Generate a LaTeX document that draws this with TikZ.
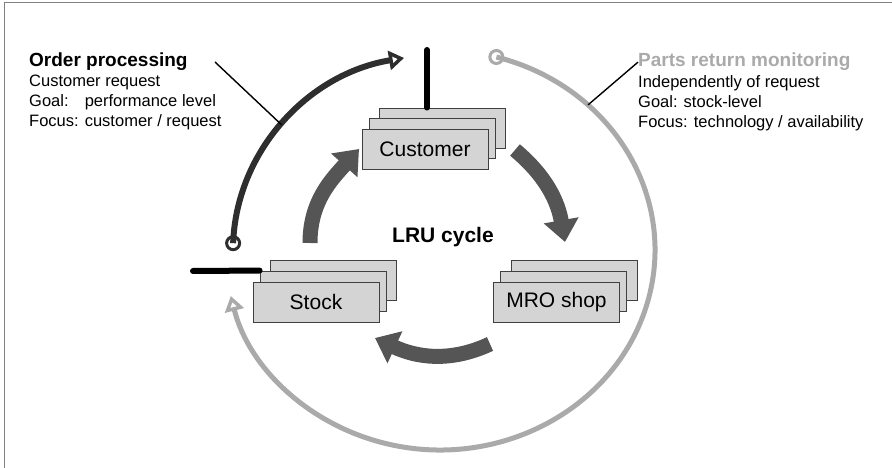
\documentclass[tikz,border=0pt]{standalone}
\usepackage{fontspec}
\setmainfont{Liberation Sans}
\usepackage{tikz}
\usetikzlibrary{positioning, arrows.meta, calc}

\definecolor{cardfill}{HTML}{D4D4D4}
\definecolor{cycleGrey}{HTML}{555555}
\definecolor{orderGrey}{HTML}{2E2E2E}
\definecolor{returnGrey}{HTML}{AAAAAA}
\definecolor{frameGrey}{HTML}{808080}

\begin{document}
\begin{tikzpicture}[
  x=1pt, y=1pt,
  card/.style={
    draw=black!75,
    fill=cardfill,
    line width=0.9pt,
    minimum width=126pt,
    minimum height=40pt,
    inner sep=0pt,
    font=\fontsize{21}{25}\selectfont
  },
  cyclearrow/.style={line width=15pt, draw=cycleGrey, -{Triangle[width=34pt, length=22pt]}},
  orderarc/.style={line width=6pt, draw=orderGrey, -{Triangle[open, line width=3.5pt, width=19pt, length=15pt]}},
  returnarc/.style={line width=5pt, draw=returnGrey, -{Triangle[open, line width=3.5pt, width=19pt, length=15pt]}},
  ring/.style={circle, draw, line width=3pt, minimum size=13pt, inner sep=0pt},
  bar/.style={line width=6pt, line cap=round},
  leader/.style={line width=1.4pt},
  infotitle/.style={font=\fontsize{19}{23}\selectfont\bfseries, inner sep=0pt},
  infobody/.style={font=\fontsize{16.5}{20}\selectfont, align=left, inner sep=0pt}
]
\useasboundingbox (0,0) rectangle (892,468);
\draw[frameGrey, line width=1pt] (4,0) -- (4,465) -- (892,465);

% the three stacked cards
\foreach \name/\px/\py/\label in {customer/425/318.5/Customer, stock/316/166/Stock, mro/556.5/166/MRO shop}{
  \node[card] (\name Back) at (\px+17.5,\py+21.5) {};
  \node[card] (\name Mid) at (\px+7,\py+11) {};
  \node[card] (\name) at (\px,\py) {\label};
}

\node[font=\fontsize{21}{25}\selectfont\bfseries] (lru) at (443,225) [anchor=base] {LRU cycle};

% inner cycle
\coordinate (c1s) at (310,225);
\coordinate (c1e) at (359,319);
\coordinate (c2s) at (515,318);
\coordinate (c2e) at (565,226);
\coordinate (c3s) at (490,124);
\coordinate (c3e) at (375,130);
\draw[cyclearrow] (c1s) to[out=90, in=228] (c1e);
\draw[cyclearrow] (c2s) to[out=-40, in=100] (c2e);
\draw[cyclearrow] (c3s) to[out=205, in=-25] (c3e);

% bars
\coordinate (barTop) at (427,418);
\draw[bar] (barTop) -- (barTop |- customerBack.north);
\coordinate (barLeft) at (193,197);
\draw[bar] (barLeft) -- (stockMid.north west);

% outer processes
\coordinate (hub) at (440,218);
\node[ring, draw=orderGrey] (opStart) at ($(hub)+(178:207pt and 195pt)$) {};
\draw[orderarc] (opStart.center) arc[start angle=178, end angle=100, x radius=207pt, y radius=195pt];
\node[ring, draw=returnGrey] (prStart) at ($(hub)+(74.8:215pt and 200pt)$) {};
\draw[returnarc] (prStart.center) arc[start angle=74.8, end angle=-166.7, x radius=215pt, y radius=200pt];

% texts
\node[infotitle, anchor=base west] (opTitle) at (29,401) {Order processing};
\node[infobody, anchor=north west] (opBody) at ([yshift=-8pt]opTitle.base west)
  {Customer request\\Goal:\hspace{0.61em} performance level\\Focus: customer / request};
\node[infotitle, text=returnGrey, anchor=base west] (prTitle) at (638,401) {Parts return monitoring};
\node[infobody, anchor=north west] (prBody) at ([yshift=-8pt]prTitle.base west)
  {Independently of request\\Goal: stock-level\\Focus: technology / availability};

% leaders
\coordinate (opLead) at (215,406);
\coordinate (opTouch) at ($(hub)+(140:207pt and 195pt)$);
\draw[leader] (opLead) -- (opTouch);
\coordinate (prTouch) at ($(hub)+(46.5:215pt and 200pt)$);
\draw[leader] (prTitle.west) -- (prTouch);
\end{tikzpicture}
\end{document}
